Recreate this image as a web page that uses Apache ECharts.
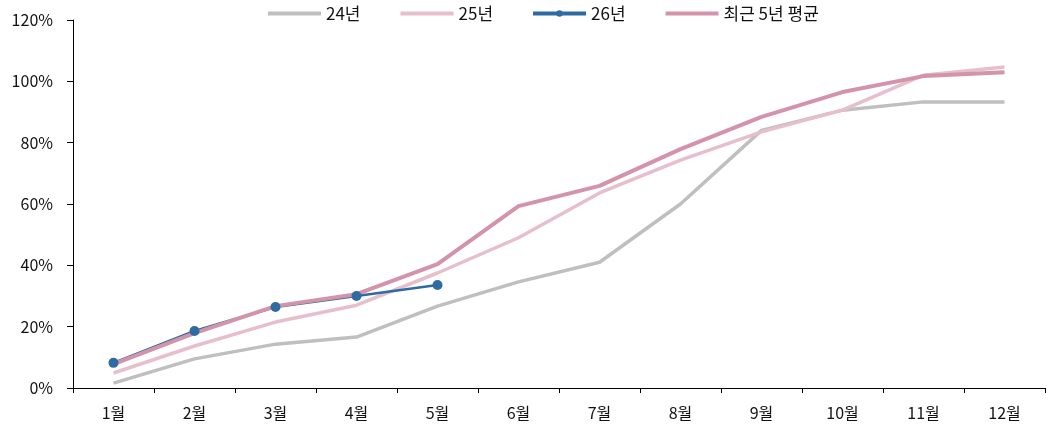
<!DOCTYPE html>
<html>
<head>
<meta charset="utf-8">
<script src="https://cdn.jsdelivr.net/npm/echarts@6/dist/echarts.min.js"></script>
<style>
  html, body { margin: 0; padding: 0; background: #fff; }
  #main { width: 1053px; height: 430px; }
</style>
</head>
<body>
<div id="main"></div>
<script>
var months = ['1월', '2월', '3월', '4월', '5월', '6월', '7월', '8월', '9월', '10월', '11월', '12월'];
var y24 = [1.6, 9.5, 14.3, 16.6, 26.7, 34.6, 41.0, 60.0, 84.0, 90.6, 93.3, 93.3];
var y25 = [4.9, 13.7, 21.5, 27.0, 37.5, 49.0, 63.6, 74.3, 83.5, 90.6, 102.0, 104.7];
var y26 = [8.2, 18.6, 26.4, 30.0, 33.6];
var avg5 = [7.8, 17.9, 26.7, 30.6, 40.4, 59.3, 65.9, 77.9, 88.4, 96.5, 101.7, 103.0];

var font = '"Noto Sans CJK KR", "Noto Sans", sans-serif';
var noDot = { opacity: 0 };

var myChart = echarts.init(document.getElementById('main'));
myChart.setOption({
  animation: false,
  textStyle: { fontFamily: font },
  legend: {
    top: 0,
    left: 261,
    itemWidth: 53,
    itemHeight: 8,
    itemGap: 38,
    textStyle: { fontSize: 17, color: '#111', fontFamily: font },
    data: [
      { name: '24년', itemStyle: noDot, lineStyle: { width: 4 } },
      { name: '25년', itemStyle: noDot, lineStyle: { width: 4 } },
      { name: '26년', lineStyle: { width: 4 } },
      { name: '최근 5년 평균', itemStyle: noDot, lineStyle: { width: 4 } }
    ]
  },
  grid: { left: 73, right: 8, top: 20, bottom: 42 },
  xAxis: {
    type: 'category',
    data: months,
    boundaryGap: true,
    axisLine: { lineStyle: { color: '#000', width: 1 } },
    axisTick: { show: true, length: 5, lineStyle: { color: '#000' } },
    axisLabel: { fontSize: 16, color: '#111', margin: 17, fontFamily: font }
  },
  yAxis: {
    type: 'value',
    min: 0,
    max: 120,
    interval: 20,
    splitLine: { show: false },
    axisLine: { show: true, lineStyle: { color: '#000', width: 1 } },
    axisTick: { show: true, length: 6, lineStyle: { color: '#000' } },
    axisLabel: { formatter: '{value}%', fontSize: 16, color: '#111', margin: 20, fontFamily: font }
  },
  series: [
    {
      name: '24년', type: 'line', data: y24, symbol: 'none',
      lineStyle: { color: '#bfbfbf', width: 3.5 }, itemStyle: { color: '#bfbfbf' }
    },
    {
      name: '25년', type: 'line', data: y25, symbol: 'none',
      lineStyle: { color: '#e7bfcb', width: 3.5 }, itemStyle: { color: '#e7bfcb' }
    },
    {
      name: '26년', type: 'line', data: y26, symbol: 'circle', symbolSize: 10,
      lineStyle: { color: '#2f6ba3', width: 2.5 }, itemStyle: { color: '#2f6ba3' }
    },
    {
      name: '최근 5년 평균', type: 'line', data: avg5, symbol: 'none',
      lineStyle: { color: '#d393a9', width: 4 }, itemStyle: { color: '#d393a9' }
    }
  ]
});
</script>
</body>
</html>
